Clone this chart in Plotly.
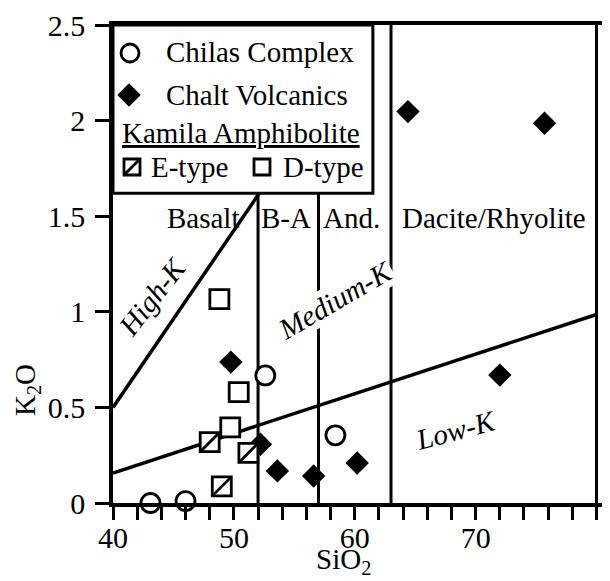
import plotly.graph_objects as go

# ---- data ----
chilas_sio2 = [43.1, 46.0, 52.6, 58.4]
chilas_k2o = [0.0, 0.01, 0.667, 0.354]

chalt_sio2 = [49.75, 52.2, 53.6, 56.6, 60.2, 64.4, 75.7, 72.0]
chalt_k2o = [0.737, 0.307, 0.168, 0.141, 0.209, 2.047, 1.986, 0.669]

etype_sio2 = [48.0, 51.2, 49.0]
etype_k2o = [0.318, 0.262, 0.087]

dtype_sio2 = [48.8, 50.4, 49.7]
dtype_k2o = [1.066, 0.58, 0.396]

# series boundary lines
highk_sio2 = [40, 52.1]
highk_k2o = [0.5, 1.62]
medk_sio2 = [40, 80]
medk_k2o = [0.157, 0.986]

# rock-type boundaries (SiO2, top K2O)
rock_bounds = [52, 57, 63, 80]
rock_tops = [1.62, 1.62, 2.5, 2.5]

x_ticks = [40, 50, 60, 70, 80]
y_ticks = [0, 0.5, 1, 1.5, 2, 2.5]

FONT = "Liberation Serif"
FS = 29
TFS = 30

# page offset (default body margin) and plot area in screen pixels
OFF = 8
SX0, SX1, SY0, SY1 = 113, 610, 25, 503   # plot area on screen
W, H = 610 - OFF, 581 - OFF
L, T = SX0 - OFF, SY0 - OFF
R = W - (SX1 - OFF)
B = H - (SY1 - OFF)
PW, PH = SX1 - SX0, SY1 - SY0

fig = go.Figure()

# boundary lines
bx, by = [], []
for xv, top in zip(rock_bounds, rock_tops):
    bx += [xv, xv, None]
    by += [0, top, None]
fig.add_trace(go.Scatter(x=bx, y=by, mode="lines",
                         line=dict(color="black", width=3),
                         hoverinfo="skip", showlegend=False))
fig.add_trace(go.Scatter(x=highk_sio2, y=highk_k2o, mode="lines",
                         line=dict(color="black", width=3.5),
                         hoverinfo="skip", showlegend=False))
fig.add_trace(go.Scatter(x=medk_sio2, y=medk_k2o, mode="lines",
                         line=dict(color="black", width=3.5),
                         hoverinfo="skip", showlegend=False))

# data markers
fig.add_trace(go.Scatter(x=chilas_sio2, y=chilas_k2o, mode="markers",
                         marker=dict(symbol="circle", size=19, color="white",
                                     line=dict(color="black", width=2.8)),
                         cliponaxis=False, showlegend=False))
fig.add_trace(go.Scatter(x=chalt_sio2, y=chalt_k2o, mode="markers",
                         marker=dict(symbol="diamond", size=18, color="black",
                                     line=dict(color="black", width=0)),
                         cliponaxis=False, showlegend=False))
fig.add_trace(go.Scatter(x=etype_sio2, y=etype_k2o, mode="markers",
                         marker=dict(symbol="square", size=19, color="white",
                                     line=dict(color="black", width=2.8)),
                         cliponaxis=False, showlegend=False))
fig.add_trace(go.Scatter(x=etype_sio2, y=etype_k2o, mode="markers",
                         marker=dict(symbol="line-ne", size=19,
                                     line=dict(color="black", width=2.8)),
                         cliponaxis=False, showlegend=False))
fig.add_trace(go.Scatter(x=dtype_sio2, y=dtype_k2o, mode="markers",
                         marker=dict(symbol="square", size=19, color="white",
                                     line=dict(color="black", width=2.8)),
                         cliponaxis=False, showlegend=False))

# ---- hand-made legend, drawn on an overlay axis in screen-pixel units ----
leg_icon_x = [130, 129, 132, 262]
leg_icon_y = [53, 95, 167, 167]
fig.add_trace(go.Scatter(x=leg_icon_x[:1], y=leg_icon_y[:1], xaxis="x2", yaxis="y2",
                         mode="markers",
                         marker=dict(symbol="circle", size=18, color="white",
                                     line=dict(color="black", width=2.8)),
                         cliponaxis=False, showlegend=False, hoverinfo="skip"))
fig.add_trace(go.Scatter(x=leg_icon_x[1:2], y=leg_icon_y[1:2], xaxis="x2", yaxis="y2",
                         mode="markers",
                         marker=dict(symbol="diamond", size=18, color="black"),
                         cliponaxis=False, showlegend=False, hoverinfo="skip"))
fig.add_trace(go.Scatter(x=leg_icon_x[2:], y=leg_icon_y[2:], xaxis="x2", yaxis="y2",
                         mode="markers",
                         marker=dict(symbol="square", size=16, color="white",
                                     line=dict(color="black", width=2.8)),
                         cliponaxis=False, showlegend=False, hoverinfo="skip"))
fig.add_trace(go.Scatter(x=leg_icon_x[2:3], y=leg_icon_y[2:3], xaxis="x2", yaxis="y2",
                         mode="markers",
                         marker=dict(symbol="line-ne", size=16,
                                     line=dict(color="black", width=2.8)),
                         cliponaxis=False, showlegend=False, hoverinfo="skip"))

annotations = []
def ptext(x, y, text, xanchor="left"):
    annotations.append(dict(x=x, y=y, xref="x2", yref="y2", text=text,
                            showarrow=False, xanchor=xanchor, yanchor="middle",
                            font=dict(family=FONT, size=FS, color="black")))

ptext(164, 52, "Chilas Complex")
ptext(164, 95, "Chalt Volcanics")
ptext(120, 133, "<u>Kamila Amphibolite</u>")
ptext(149, 167, "E-type")
ptext(281, 167, "D-type")

def dtext(x, y, text, angle=0, bg=None):
    a = dict(x=x, y=y, xref="x", yref="y", text=text, showarrow=False,
             textangle=angle, xanchor="center", yanchor="middle",
             font=dict(family=FONT, size=FS, color="black"))
    if bg:
        a["bgcolor"] = bg
        a["borderpad"] = 0
    annotations.append(a)

dtext(47.45, 1.49, "Basalt")
dtext(54.3, 1.49, "B-A")
dtext(59.7, 1.49, "And.")
dtext(71.5, 1.49, "Dacite/Rhyolite")
dtext(43.2, 1.08, "<i>High-K</i>", angle=-52)
dtext(58.4, 1.06, "<i>Medium-K</i>", angle=-30, bg="white")
dtext(68.4, 0.38, "<i>Low-K</i>", angle=-15)

# axis titles (paper coordinates, placed by screen pixel position)
annotations.append(dict(x=(343 - SX0) / PW, y=(SY1 - 581) / PH,
                        xref="paper", yref="paper",
                        text="SiO<sub>2</sub>", showarrow=False,
                        xanchor="center", yanchor="bottom",
                        font=dict(family=FONT, size=FS, color="black")))
annotations.append(dict(x=(27 - SX0) / PW, y=(SY1 - 390) / PH,
                        xref="paper", yref="paper",
                        text="K<sub>2</sub>O", showarrow=False, textangle=-90,
                        xanchor="center", yanchor="middle",
                        font=dict(family=FONT, size=FS, color="black")))

shapes = [dict(type="rect", xref="x", yref="y", x0=40, x1=61.5, y0=1.62, y1=2.5,
               line=dict(color="black", width=3), fillcolor="white", layer="below")]

fig.update_layout(
    width=W, height=H,
    margin=dict(l=L, r=R, t=T, b=B, autoexpand=False),
    paper_bgcolor="white", plot_bgcolor="white",
    font=dict(family=FONT, size=FS, color="black"),
    showlegend=False,
    shapes=shapes,
    annotations=annotations,
    xaxis=dict(range=[40, 40 + PW / 12.0875], tickvals=x_ticks, ticks="outside",
               ticklen=13, tickwidth=2.5, tickcolor="black", showline=True,
               linewidth=3.5, linecolor="black", mirror=True, showgrid=False,
               zeroline=False, automargin=False, ticklabelstandoff=-8,
               minor=dict(dtick=2, tick0=40, ticks="outside", ticklen=13,
                          tickwidth=2.5, tickcolor="black", showgrid=False),
               tickfont=dict(family=FONT, size=TFS, color="black")),
    yaxis=dict(range=[0, 2.5], tickvals=y_ticks, ticks="outside", ticklen=14,
               tickwidth=2.5, tickcolor="black", showline=True, linewidth=3.5,
               linecolor="black", showgrid=False, zeroline=False,
               automargin=False, ticklabelstandoff=4,
               tickfont=dict(family=FONT, size=TFS, color="black")),
    xaxis2=dict(overlaying="x", range=[SX0, SX1], visible=False),
    yaxis2=dict(overlaying="y", range=[SY1, SY0], visible=False),
)

fig.write_html("out.html")
